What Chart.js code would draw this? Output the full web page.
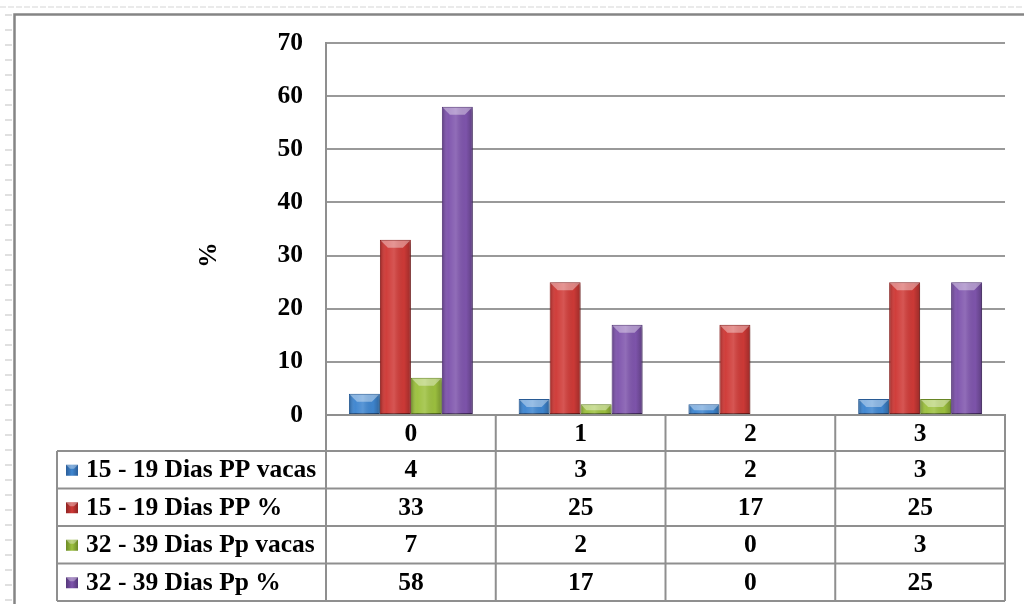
<!DOCTYPE html>
<html>
<head>
<meta charset="utf-8">
<script src="https://cdn.jsdelivr.net/npm/chart.js@4.4.1/dist/chart.umd.min.js"></script>
<style>
  html, body { margin: 0; padding: 0; background: #ffffff; }
  #wrap { width: 1024px; height: 604px; position: relative; }
</style>
</head>
<body>
<div id="wrap"><canvas id="chart" width="1024" height="604"></canvas></div>
<script>
// Categories (x axis) and the four series shown in the data table
const categories = ['0', '1', '2', '3'];
const seriesNames = ['15 - 19 Dias PP vacas', '15 - 19 Dias PP %', '32 - 39 Dias Pp vacas', '32 - 39 Dias Pp %'];
const vacas1519 = [4, 3, 2, 3];
const pct1519 = [33, 25, 17, 25];
const vacas3239 = [7, 2, 0, 3];
const pct3239 = [58, 17, 0, 25];
const yTickValues = [0, 10, 20, 30, 40, 50, 60, 70];
const yAxisTitle = '%';

const seriesValues = [vacas1519, pct1519, vacas3239, pct3239];
const fillColors = ['#3f86d0', '#cf3a37', '#9dc13f', '#7f55ad'];
const edgeColors = ['#2a5d99', '#8e2322', '#6b8a26', '#55377a'];
const lineGrey = '#8f8f8f';
const FONT_FAMILY = '"Liberation Serif", "Times New Roman", serif';
const FONT = 'bold 25.5px ' + FONT_FAMILY;

// Page decoration, frame and white background
const framePlugin = {
  id: 'frame',
  beforeDraw(chart) {
    const ctx = chart.ctx;
    ctx.save();
    ctx.fillStyle = '#ffffff';
    ctx.fillRect(0, 0, chart.width, chart.height);
    // faint dashed guide along the top
    ctx.strokeStyle = '#e4e4e4';
    ctx.lineWidth = 1.5;
    ctx.setLineDash([6, 2]);
    ctx.beginPath();
    ctx.moveTo(0, 7);
    ctx.lineTo(chart.width, 7);
    ctx.stroke();
    ctx.setLineDash([]);
    // short marks down the left margin
    ctx.strokeStyle = '#d6d6d6';
    ctx.lineWidth = 1.5;
    for (let y = 15; y < chart.height; y += 15) {
      ctx.beginPath();
      ctx.moveTo(5, y);
      ctx.lineTo(12, y);
      ctx.stroke();
    }
    // outer frame (left and top edges)
    ctx.strokeStyle = '#858585';
    ctx.lineWidth = 2.5;
    ctx.beginPath();
    ctx.moveTo(14.5, chart.height);
    ctx.lineTo(14.5, 14.5);
    ctx.lineTo(chart.width, 14.5);
    ctx.stroke();
    ctx.restore();
  }
};

// Soft shadow while bars are drawn, then bevel shading on top of each bar
const bevelPlugin = {
  id: 'bevel',
  beforeDatasetsDraw(chart) {
    const ctx = chart.ctx;
    ctx.save();
    ctx.shadowColor = 'rgba(0,0,0,0.28)';
    ctx.shadowBlur = 4;
    ctx.shadowOffsetX = 2;
    ctx.shadowOffsetY = 2;
  },
  afterDatasetsDraw(chart) {
    const ctx = chart.ctx;
    ctx.restore();
    ctx.save();
    chart.data.datasets.forEach((ds, di) => {
      const meta = chart.getDatasetMeta(di);
      meta.data.forEach((bar) => {
        const p = bar.getProps(['x', 'y', 'base', 'width'], true);
        const h = p.base - p.y;
        if (h < 1) return;
        const l = p.x - p.width / 2 + 1;
        const r = p.x + p.width / 2 - 1;
        const g = ctx.createLinearGradient(l, 0, r, 0);
        g.addColorStop(0, 'rgba(0,0,0,0.20)');
        g.addColorStop(0.18, 'rgba(255,255,255,0.02)');
        g.addColorStop(0.45, 'rgba(255,255,255,0.14)');
        g.addColorStop(0.8, 'rgba(0,0,0,0.02)');
        g.addColorStop(1, 'rgba(0,0,0,0.22)');
        ctx.fillStyle = g;
        ctx.fillRect(l, p.y + 1, r - l, h - 1);
        const b = Math.min(7, h / 2);
        ctx.fillStyle = 'rgba(255,255,255,0.38)';
        ctx.beginPath();
        ctx.moveTo(l, p.y + 1);
        ctx.lineTo(r, p.y + 1);
        ctx.lineTo(r - b, p.y + 1 + b);
        ctx.lineTo(l + b, p.y + 1 + b);
        ctx.closePath();
        ctx.fill();
      });
    });
    ctx.restore();
  }
};

// Data table under the plot, aligned with the category columns
const tablePlugin = {
  id: 'dataTable',
  afterDraw(chart) {
    const ctx = chart.ctx;
    const area = chart.chartArea;
    const x = chart.scales.x;
    const n = categories.length;
    const colW = (x.right - x.left) / n;
    const edges = [];
    for (let i = 0; i <= n; i++) edges.push(x.getPixelForValue(0) - colW / 2 + i * colW);
    const top = area.bottom;
    const headH = 36;
    const rowH = 37.5;
    const tableLeft = 57;
    const bodyTop = top + headH;
    const bottom = bodyTop + rowH * seriesNames.length;

    ctx.save();
    ctx.strokeStyle = lineGrey;
    ctx.lineWidth = 2;
    ctx.beginPath();
    // horizontal rules
    for (let r = 0; r <= seriesNames.length; r++) {
      const y = bodyTop + r * rowH;
      ctx.moveTo(tableLeft, y);
      ctx.lineTo(edges[n], y);
    }
    // vertical rules
    ctx.moveTo(tableLeft, bodyTop);
    ctx.lineTo(tableLeft, bottom);
    edges.forEach((ex) => {
      ctx.moveTo(ex, top);
      ctx.lineTo(ex, bottom);
    });
    ctx.stroke();

    ctx.fillStyle = '#000000';
    ctx.font = FONT;
    ctx.textBaseline = 'middle';
    ctx.textAlign = 'center';
    // header row: category names
    categories.forEach((c, i) => {
      ctx.fillText(c, (edges[i] + edges[i + 1]) / 2, top + headH / 2 + 1);
    });
    // body rows
    seriesNames.forEach((name, r) => {
      const cy = bodyTop + r * rowH + rowH / 2 + 1;
      // legend key
      const kx = 66, ky = cy - 6, ks = 12;
      const kg = ctx.createLinearGradient(kx, 0, kx + ks, 0);
      kg.addColorStop(0, edgeColors[r]);
      kg.addColorStop(0.5, fillColors[r]);
      kg.addColorStop(1, edgeColors[r]);
      ctx.fillStyle = kg;
      ctx.fillRect(kx, ky, ks, ks - 1);
      ctx.fillStyle = 'rgba(255,255,255,0.35)';
      ctx.beginPath();
      ctx.moveTo(kx, ky);
      ctx.lineTo(kx + ks, ky);
      ctx.lineTo(kx + ks - 4, ky + 4);
      ctx.lineTo(kx + 4, ky + 4);
      ctx.closePath();
      ctx.fill();
      ctx.fillStyle = '#000000';
      ctx.textAlign = 'left';
      ctx.fillText(name, 86, cy);
      ctx.textAlign = 'center';
      seriesValues[r].forEach((v, i) => {
        ctx.fillText(String(v), (edges[i] + edges[i + 1]) / 2, cy);
      });
    });

    // rotated axis title
    ctx.save();
    ctx.translate(area.left - 117, area.top + 212);
    ctx.rotate(-Math.PI / 2);
    ctx.textAlign = 'center';
    ctx.fillText(yAxisTitle, 0, 0);
    ctx.restore();
    ctx.restore();
  }
};

const datasets = seriesNames.map((name, i) => ({
  label: name,
  data: seriesValues[i],
  backgroundColor: fillColors[i],
  borderColor: edgeColors[i],
  borderWidth: 1,
  borderSkipped: false,
  categoryPercentage: 0.73,
  barPercentage: 1.0
}));

new Chart(document.getElementById('chart'), {
  type: 'bar',
  data: { labels: categories, datasets },
  plugins: [framePlugin, bevelPlugin, tablePlugin],
  options: {
    responsive: false,
    animation: false,
    devicePixelRatio: 1,
    layout: { padding: { left: 57, top: 43, right: 19, bottom: 189 } },
    plugins: { legend: { display: false }, tooltip: { enabled: false } },
    scales: {
      x: {
        afterFit: (s) => { s.height = 0; },
        ticks: { display: false },
        grid: { display: false },
        border: { display: true, color: lineGrey, width: 2 }
      },
      y: {
        min: 0,
        max: 70,
        afterBuildTicks: (s) => { s.ticks = yTickValues.map((v) => ({ value: v })); },
        afterFit: (s) => { s.width = 269; },
        ticks: {
          padding: 23,
          color: '#000000',
          font: { family: FONT_FAMILY, size: 25.5, weight: 'bold' }
        },
        grid: { color: '#999999', lineWidth: 2, drawTicks: false },
        border: { display: true, color: lineGrey, width: 2 }
      }
    }
  }
});
</script>
</body>
</html>
